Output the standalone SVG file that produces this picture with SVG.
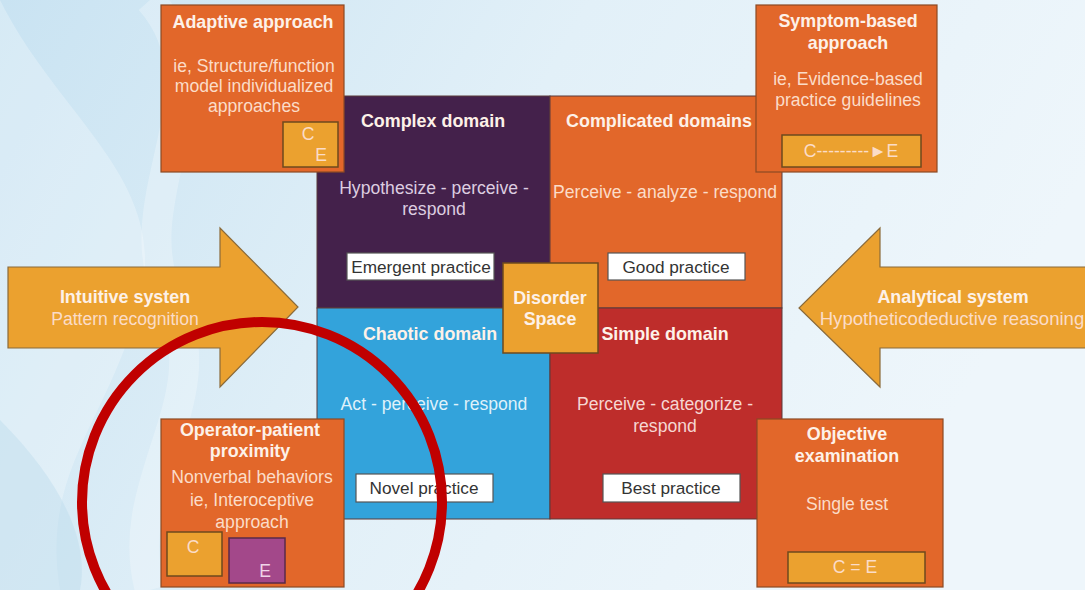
<svg xmlns="http://www.w3.org/2000/svg" width="1085" height="590" viewBox="0 0 1085 590">
<defs>
<linearGradient id="bg" x1="0" y1="0" x2="1" y2="0.3">
<stop offset="0" stop-color="#c9e3f2"/>
<stop offset="0.5" stop-color="#e2f0f8"/>
<stop offset="1" stop-color="#eef6fb"/>
</linearGradient>
<style>
text{font-family:"Liberation Sans",Arial,sans-serif;text-anchor:middle}
.b{font-weight:bold;font-size:17.9px;fill:#fdf1e8}
.t{font-size:17.6px;fill:#fbdcc8}
.tp{font-size:17.6px;fill:#ddcde0}
.tb{font-size:17.6px;fill:#dff1fa}
.tr{font-size:17.6px;fill:#f6d6d2}
.lbl{font-size:17.2px;fill:#333}
.box{fill:#e2672a;stroke:#8c4a24;stroke-width:1.2}
.gold{fill:#eba12f;stroke:#6e4a1e;stroke-width:1.5}
.wb{fill:#fff;stroke:#555;stroke-width:1.2}
.q{stroke:#5a3a3a;stroke-width:1}
.arr{fill:#eba12f;stroke:#8a6a3a;stroke-width:1.2}
</style>
</defs>
<rect width="1085" height="590" fill="url(#bg)"/>
<path d="M0,0 C60,120 170,180 140,300 C110,420 40,470 60,590 L0,590 Z" fill="#ffffff" opacity="0.25"/>
<path d="M150,0 C230,90 120,200 170,300 C220,400 120,480 150,590" fill="none" stroke="#ffffff" stroke-width="30" opacity="0.25"/>
<path d="M0,420 C60,480 90,540 80,590 L0,590 Z" fill="#b8d9ec" opacity="0.4"/>

<g id="complex">
<rect class="q" x="317" y="96" width="233" height="212" fill="#44214b"/>
<text class="b" x="433" y="127">Complex domain</text>
<text class="tp" x="434" y="194">Hypothesize - perceive -</text>
<text class="tp" x="434" y="215">respond</text>
<rect class="wb" x="347" y="253" width="147" height="27"/>
<text class="lbl" x="421" y="273">Emergent practice</text>
</g>
<g id="complicated">
<rect class="q" x="550" y="96" width="232" height="212" fill="#e2672a"/>
<text class="b" x="659" y="127">Complicated domains</text>
<text class="t" x="665" y="198">Perceive - analyze - respond</text>
<rect class="wb" x="608" y="253" width="137" height="27"/>
<text class="lbl" x="676" y="273">Good practice</text>
</g>
<g id="chaotic">
<rect class="q" x="317" y="308" width="233" height="211" fill="#33a3db"/>
<text class="b" x="430" y="340">Chaotic domain</text>
<text class="tb" x="434" y="410">Act - perceive - respond</text>
<rect class="wb" x="356" y="474" width="137" height="28"/>
<text class="lbl" x="424" y="494">Novel practice</text>
</g>
<g id="simple">
<rect class="q" x="550" y="308" width="232" height="211" fill="#be2d2b"/>
<text class="b" x="665" y="340">Simple domain</text>
<text class="tr" x="665" y="410">Perceive - categorize -</text>
<text class="tr" x="665" y="432">respond</text>
<rect class="wb" x="603" y="474" width="137" height="28"/>
<text class="lbl" x="671" y="494">Best practice</text>
</g>
<g id="disorder">
<rect class="gold" x="503" y="263" width="95" height="90" stroke-width="1.2"/>
<text class="b" x="550" y="304">Disorder</text>
<text class="b" x="550" y="325">Space</text>
</g>

<g id="adaptive">
<rect class="box" x="161" y="5" width="183" height="167"/>
<text class="b" x="253" y="28">Adaptive approach</text>
<text class="t" x="254" y="72">ie, Structure/function</text>
<text class="t" x="254" y="92">model individualized</text>
<text class="t" x="254" y="112">approaches</text>
<rect class="gold" x="283" y="122" width="55" height="45"/>
<text class="t" x="308" y="140">C</text>
<text class="t" x="321" y="161">E</text>
</g>
<g id="symptom">
<rect class="box" x="756" y="5" width="181" height="167"/>
<text class="b" x="848" y="27">Symptom-based</text>
<text class="b" x="848" y="49">approach</text>
<text class="t" x="848" y="85">ie, Evidence-based</text>
<text class="t" x="848" y="106">practice guidelines</text>
<rect class="gold" x="782" y="135" width="139" height="32"/>
<text class="t" x="851" y="157">C---------►E</text>
</g>
<g id="operator">
<rect class="box" x="161" y="419" width="183" height="168"/>
<text class="b" x="250" y="436">Operator-patient</text>
<text class="b" x="250" y="457">proximity</text>
<text class="t" x="252" y="483">Nonverbal behaviors</text>
<text class="t" x="252" y="506">ie, Interoceptive</text>
<text class="t" x="252" y="528">approach</text>
<rect class="gold" x="167" y="532" width="55" height="44"/>
<text class="t" x="193" y="553">C</text>
<rect x="229" y="538" width="56" height="45" fill="#a3488a" stroke="#5a2a4a" stroke-width="1.5"/>
<text class="t" x="265" y="577" style="fill:#f0d5e8">E</text>
</g>
<g id="objective">
<rect class="box" x="757" y="419" width="186" height="168"/>
<text class="b" x="847" y="440">Objective</text>
<text class="b" x="847" y="462">examination</text>
<text class="t" x="847" y="510">Single test</text>
<rect class="gold" x="788" y="552" width="137" height="31"/>
<text class="t" x="855" y="573">C = E</text>
</g>

<g id="intuitive">
<path class="arr" d="M8,267 L220,267 L220,228 L298,307 L220,387 L220,348 L8,348 Z"/>
<text class="b" x="125" y="303">Intuitive systen</text>
<text class="t" x="125" y="325">Pattern recognition</text>
</g>
<g id="analytical">
<path class="arr" d="M1090,267 L880,267 L880,228 L799,308 L880,387 L880,348 L1090,348 Z"/>
<text class="b" x="953" y="303">Analytical system</text>
<text class="t" x="952" y="325" style="font-size:18.6px">Hypotheticodeductive reasoning</text>
</g>

<g id="connectors"></g>

<g id="highlight">
<circle cx="262" cy="502" r="180" fill="none" stroke="#c00000" stroke-width="10"/>
</g>
</svg>
